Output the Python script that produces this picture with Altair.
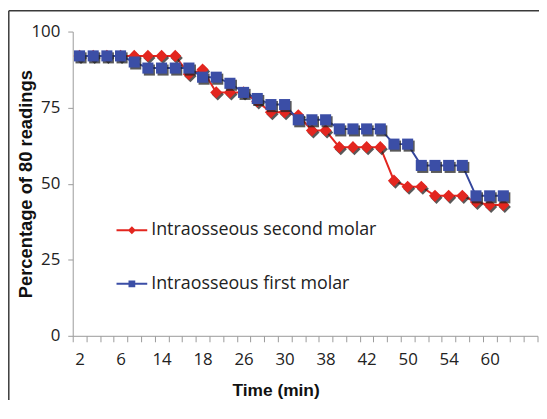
import json
import altair as alt
import pandas as pd

# ---- data ----
tick_labels = ["2", "6", "14", "18", "26", "30", "38", "42", "50", "54", "60"]
n_categories = 34
series_names = ["Intraosseous second molar", "Intraosseous first molar"]
second_molar = [92, 92, 92, 92, 92, 92, 92, 92, 86, 87.5, 80, 80, 80, 77, 73.5, 73.5,
                72.5, 67.5, 67.5, 62, 62, 62, 62, 51, 49, 49, 46, 46, 46, 44, 43, 43]
first_molar = [92, 92, 92, 92, 90, 88, 88, 88, 88, 85, 85, 83, 80, 78, 76, 76,
               71, 71, 71, 68, 68, 68, 68, 63, 63, 56, 56, 56, 56, 46, 46, 46]
y_ticks = [0, 25, 50, 75, 100]

RED = "#e3261f"
BLUE = "#3b4ea6"
BLUE_LINE = "#34469c"
FRAME = "#3a3a3a"
TEXT_FONT = "Open Sans"

rows = []
for name, vals in zip(series_names, [second_molar, first_molar]):
    for i, v in enumerate(vals):
        rows.append({"series": name, "pos": i + 0.5, "value": v})
df = pd.DataFrame(rows)

W, H = 469, 307
band = W / n_categories

label_expr = (f"datum.value % 3 == 0 && datum.value <= {3 * (len(tick_labels) - 1)} ? "
              f"{json.dumps(tick_labels)}[datum.value / 3] : ''")

x_axis = alt.Axis(values=list(range(n_categories + 1)), tickSize=6, tickColor="#9a9a9a",
                  domainColor="#9a9a9a", grid=False, labelExpr=label_expr,
                  labelOffset=band / 2, labelPadding=10, labelFont=TEXT_FONT, labelFontSize=17,
                  labelColor="#222", labelOverlap=False, labelFlush=False,
                  title="Time (min)", titleFont="Liberation Sans", titleFontSize=17.5,
                  titleFontWeight="bold", titleColor="#111", titleX=204.7, titleY=55,
                  titleBaseline="middle", titleAlign="center")
y_axis = alt.Axis(values=y_ticks, tickSize=5, tickColor="#9a9a9a", domainColor="#9a9a9a",
                  grid=False, labelPadding=8, labelFont=TEXT_FONT, labelFontSize=17,
                  labelColor="#222", title="Percentage of 80 readings",
                  titleFont="Liberation Sans", titleFontSize=18.5, titleFontWeight="bold",
                  titleColor="#111", titleAngle=270, titleX=-47.3, titleY=H / 2,
                  titleBaseline="middle", titleAlign="center")

x_enc = alt.X("pos:Q", scale=alt.Scale(domain=[0, n_categories], nice=False, zero=False), axis=x_axis)
y_enc = alt.Y("value:Q", scale=alt.Scale(domain=[0, 100], nice=False), axis=y_axis)


def series_layers(name, shape, color, line_color, size):
    base = alt.Chart(df).transform_filter(alt.datum.series == name)
    line = base.mark_line(color=line_color, strokeWidth=2).encode(x=x_enc, y=y_enc)
    shadow = base.mark_point(shape=shape, filled=True, color="#222", opacity=0.75,
                             size=size, xOffset=1.5, yOffset=2).encode(x=x_enc, y=y_enc)
    pts = base.mark_point(shape=shape, filled=True, color=color, opacity=1,
                          size=size).encode(x=x_enc, y=y_enc)
    return [line, shadow, pts]


diamond_path = "M-1,-0.065H1V0.065H-1Z M0,-0.26L0.26,0L0,0.26L-0.26,0Z"
square_path = "M-1,-0.065H1V0.065H-1Z M-0.22,-0.22H0.22V0.22H-0.22Z"

leg = alt.Legend(title=None, orient="none", legendX=44.2, legendY=185, symbolSize=961,
                 symbolStrokeWidth=0, labelFont=TEXT_FONT, labelFontSize=18, labelColor="#222",
                 labelOffset=4, labelLimit=0, rowPadding=29, padding=0, symbolOpacity=1)

legend_layer = alt.Chart(df).transform_filter("false").mark_point(filled=True).encode(
    x=x_enc, y=y_enc,
    color=alt.Color("series:N", scale=alt.Scale(domain=series_names, range=[RED, BLUE]), legend=leg),
    shape=alt.Shape("series:N", scale=alt.Scale(domain=series_names, range=[diamond_path, square_path]), legend=leg),
)

one = pd.DataFrame({"k": [0]})
frame_top = alt.Chart(one).mark_rule(color=FRAME, strokeWidth=1.5).encode(
    x=alt.value(-64.5), x2=alt.value(W + 40), y=alt.value(-21))
frame_left = alt.Chart(one).mark_rule(color=FRAME, strokeWidth=1.5).encode(
    x=alt.value(-64.5), y=alt.value(-21), y2=alt.value(H + 120))

layers = [frame_top, frame_left]
layers += series_layers(series_names[0], "diamond", RED, RED, 150)
layers += series_layers(series_names[1], "square", BLUE, BLUE_LINE, 125)
layers.append(legend_layer)

chart = alt.layer(*layers).properties(
    width=W, height=H,
    autosize=alt.AutoSizeParams(type="none"),
    padding={"left": 65.3, "top": 22, "right": 1.5, "bottom": 63},
    background="white",
).configure_view(strokeWidth=0)

chart.save("out.html", embed_options={"renderer": "svg", "actions": False})
